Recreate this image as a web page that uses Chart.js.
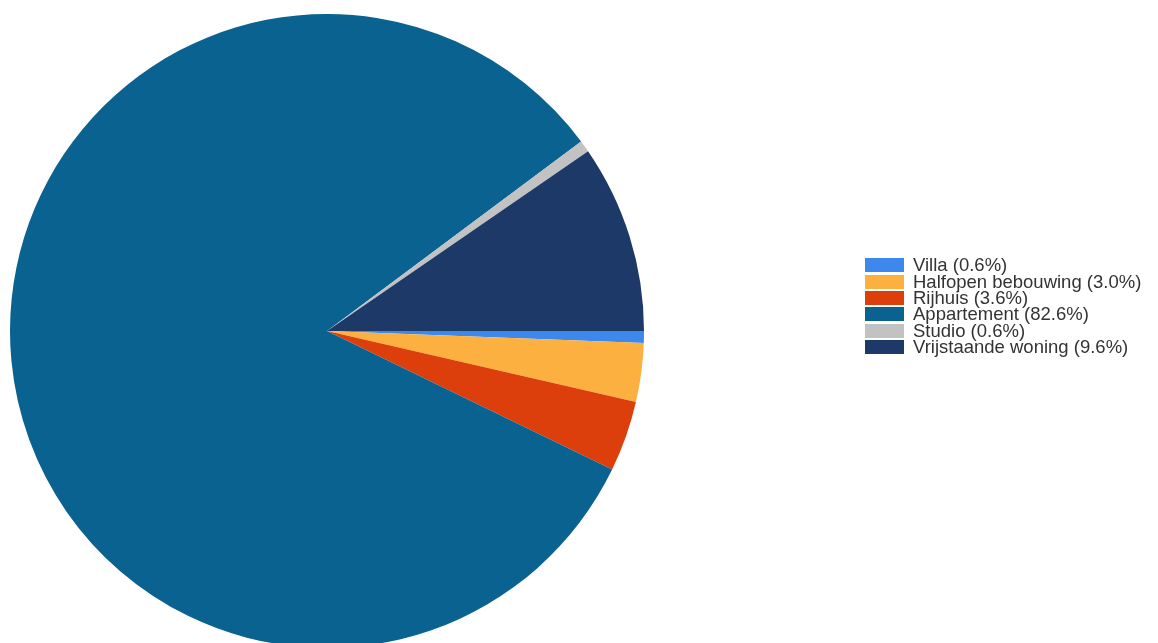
<!DOCTYPE html>
<html>
<head>
<meta charset="utf-8">
<script src="https://cdn.jsdelivr.net/npm/chart.js@4"></script>
<style>
  html,body{margin:0;padding:0;background:#fff;overflow:hidden}
  #wrap{position:relative;width:1158px;height:643px;overflow:hidden}
  #legend{position:absolute;left:865px;top:257px;font-family:"Liberation Sans",Arial,sans-serif;font-size:18.5px;color:#333}
  #legend div{display:flex;align-items:center;height:16.4px;white-space:nowrap}
  #legend span.box{display:inline-block;width:39px;height:14px;margin-right:9px}
</style>
</head>
<body>
<div id="wrap">
  <canvas id="pie" width="1158" height="680"></canvas>
  <div id="legend"></div>
</div>
<script>
const labels = ["Villa","Halfopen bebouwing","Rijhuis","Appartement","Studio","Vrijstaande woning"];
const values = [0.6, 3.0, 3.6, 82.6, 0.6, 9.6];
const colors = ["#3d88ed","#fbb03f","#dc3f0b","#0a6291","#c2c2c2","#1c3967"];

const lg = document.getElementById("legend");
labels.forEach((l,i)=>lg.insertAdjacentHTML("beforeend",
  `<div><span class="box" style="background:${colors[i]}"></span>${l} (${values[i].toFixed(1)}%)</div>`));

// pie centred at ~(327,331), r ~317; canvas is taller than the window so the bottom gets clipped
new Chart(document.getElementById("pie"),{
  type:"pie",
  data:{labels,datasets:[{data:values,backgroundColor:colors,borderWidth:0}]},
  options:{
    responsive:false,animation:false,rotation:90,
    layout:{padding:{left:10,top:14,right:514,bottom:32}},
    plugins:{legend:{display:false},tooltip:{enabled:false}}
  }
});
</script>
</body>
</html>
